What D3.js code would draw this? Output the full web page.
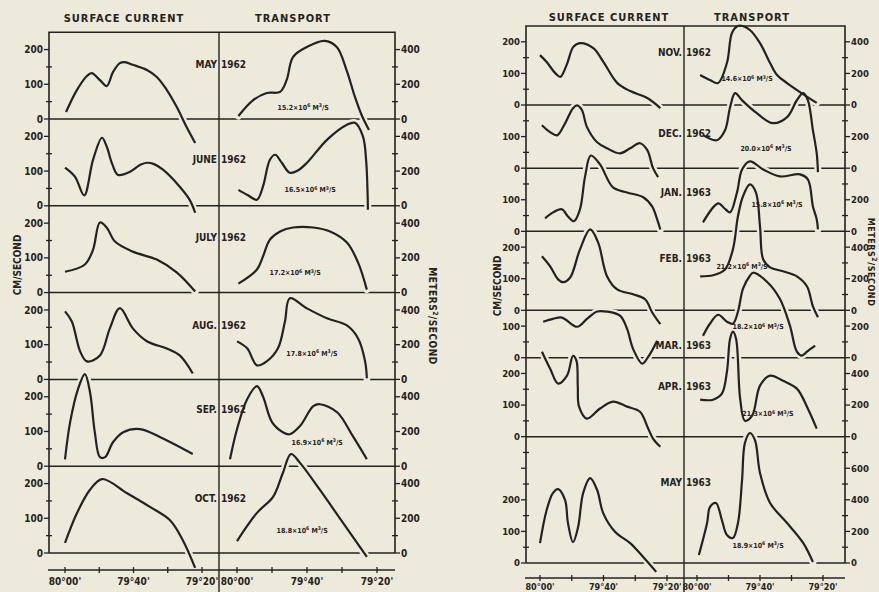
<!DOCTYPE html>
<meta charset="utf-8">
<style>
  body { margin: 0; background: #eeeadb; }
  svg { display: block; }
  text { font-family: "DejaVu Sans Condensed", "DejaVu Sans", sans-serif; font-weight: bold; fill: #242220; }
</style>
<body></body>
<script src="https://cdn.jsdelivr.net/npm/d3@7"></script>
<script>
  const width = 879
  const height = 592
  const ink = "#242220"
  const paper = "#eeeadb"

  // x values: minutes of longitude east of 80°00'W
  const xTickValues = [0, 10, 20, 30, 40]
  const xTickLabels = {0: "80°00'", 20: "79°40'", 40: "79°20'"}

  // ---- left figure, May - Oct 1962 ----
  const monthsA = ["MAY 1962", "JUNE 1962", "JULY 1962", "AUG. 1962", "SEP. 1962", "OCT. 1962"]
  // baseline of each panel, in cm/sec of the stacked scale
  const basesA = [1250, 1000, 750, 500, 250, 0]
  const monthLevelA = [158, 135, 158, 156, 164, 158]
  const currentTicksA = [[0, 100, 200], [0, 100, 200], [0, 100, 200], [0, 100, 200], [0, 100, 200], [0, 100, 200]]
  const transportTicksA = [[0, 200, 400], [0, 200, 400], [0, 200, 400], [0, 200, 400], [0, 200, 400], [0, 200, 400]]
  const totalsA = ["15.2", "16.5", "17.2", "17.8", "16.9", "18.8"]
  const totalAtA = [[18.9, 69], [20.9, 92], [16.6, 115], [21.4, 150], [22.9, 138], [18.6, 132]]

  const currentA = [
    [[0.3, 20], [3.5, 84], [6.4, 124], [7.8, 132], [10.2, 112], [12.2, 95], [14, 135], [16, 161], [17.5, 164], [19.8, 156], [23.9, 141], [26.8, 121], [29.7, 84], [32.6, 35], [35.5, -23], [38, -69]],
    [[0, 110], [2.9, 84], [5.6, 30], [8.2, 133], [10.8, 196], [12.2, 170], [13.8, 120], [15.5, 89], [19, 98], [22, 118], [23.9, 124], [26, 120], [28.6, 104], [33.5, 55], [36.4, 17], [38, -20]],
    [[0, 60], [5.8, 81], [8.2, 124], [10.2, 202], [12.2, 187], [14.6, 147], [19.8, 118], [26.8, 95], [32.6, 58], [38, 3]],
    [[0, 196], [2, 167], [4.4, 81], [6.4, 52], [10.2, 69], [13.1, 147], [16, 205], [19.8, 147], [23.9, 110], [29.7, 89], [33.5, 69], [37.3, 17]],
    [[0, 20], [1.5, 127], [3.8, 222], [5.8, 265], [7.3, 213], [8.7, 98], [10.2, 26], [11.7, 26], [14, 69], [17, 98], [21.9, 107], [27.7, 84], [37.3, 35]],
    [[0, 29], [3.5, 115], [7.3, 182], [10.8, 213], [18, 173], [24.8, 133], [30.6, 95], [34.4, 37], [38, -43]]
  ]
  const transportA = [
    [[0.4, 17], [4.7, 110], [8.5, 150], [12.3, 156], [14.2, 225], [16, 357], [20, 415], [25, 450], [28.5, 415], [31.3, 282], [33.7, 127], [35.6, 23], [37.7, -63]],
    [[0.4, 92], [3, 62], [5.7, 35], [7.4, 110], [9.4, 265], [10.9, 294], [12.8, 248], [15.1, 190], [17.5, 205], [20, 248], [25.7, 380], [31.4, 467], [33.7, 478], [36, 398], [36.9, 260], [37.3, 80], [37.4, -23]],
    [[0.4, 52], [5.7, 133], [7.4, 207], [9.4, 305], [12.3, 352], [16, 375], [21.8, 375], [26.6, 352], [31.4, 288], [34.6, 173], [37.1, 17]],
    [[0, 219], [2.9, 179], [5.7, 81], [8.5, 104], [11.7, 179], [13.7, 334], [15.1, 467], [20, 409], [25.7, 352], [31.4, 311], [34.6, 236], [36.6, 104], [37.1, 6]],
    [[-2, 40], [0, 213], [2.9, 386], [5.7, 461], [7.4, 403], [10, 254], [13.1, 196], [15.1, 184], [18, 231], [21.8, 346], [23.7, 357], [28.6, 311], [33.1, 173], [37.1, 40]],
    [[0, 69], [5.7, 231], [10.3, 323], [13.1, 461], [15.4, 570], [18, 519], [23.7, 363], [30.3, 173], [34.3, 58], [37.1, -23]]
  ]

  // ---- right figure, Nov 1962 - May 1963 ----
  const monthsB = ["NOV. 1962", "DEC. 1962", "JAN. 1963", "FEB. 1963", "MAR. 1963", "APR. 1963", "MAY 1963"]
  const basesB = [1450, 1250, 1050, 800, 650, 400, 0]
  const monthLevelB = [168, 111, 123, 165, 38, 158, 256]
  const currentTicksB = [[0, 100, 200], [0, 100], [0, 100], [0, 100, 200], [0, 100], [0, 100, 200], [0, 100, 200]]
  const transportTicksB = [[0, 200, 400], [0, 200], [0, 200], [0, 200, 400], [0, 200], [0, 200, 400], [0, 200, 400, 600]]
  const totalsB = ["14.6", "20.0", "15.8", "21.2", "18.2", "21.3", "18.9"]
  const totalAtB = [[15.9, 165], [21.9, 127], [25.4, 171], [14.3, 278], [19.4, 196], [22.5, 146], [19.4, 114]]

  const currentB = [
    [[0, 158], [2.1, 136], [4.8, 101], [6.4, 89], [8.4, 127], [10.5, 184], [12.6, 196], [16.8, 180], [20, 136], [24.3, 70], [28.4, 44], [33.8, 22], [37.9, -10]],
    [[0.6, 136], [3.2, 114], [5.4, 104], [7.9, 142], [10.4, 190], [11.7, 199], [13.2, 184], [14.8, 130], [18, 82], [21.1, 63], [25.2, 47], [28.4, 63], [31.5, 79], [33.8, 57], [35.6, 0], [37.2, -28]],
    [[1.6, 41], [4.1, 60], [6.9, 70], [8.8, 47], [10.7, 32], [12.6, 70], [14.2, 174], [16, 240], [18.9, 212], [23, 139], [27.4, 123], [32.5, 108], [35.3, 79], [36.9, 38], [37.9, 6]],
    [[0.6, 171], [3.2, 139], [5.7, 98], [7.3, 89], [9.5, 104], [12.6, 193], [15.8, 256], [18.3, 215], [21.1, 108], [24.3, 66], [29.3, 51], [33.1, 35], [35.3, -6], [37.9, -44]],
    [[1, 114], [4.1, 123], [6.9, 127], [11.7, 98], [14.8, 123], [18, 146], [21.1, 146], [25.2, 133], [27.4, 92], [29.3, 28], [32.2, -19], [34.1, 3], [36.9, 54]],
    [[0.6, 269], [3.2, 215], [5.7, 168], [8.5, 193], [10.4, 256], [11.5, 240], [11.9, 160], [12.3, 95], [14.8, 57], [18.9, 89], [23, 111], [27.4, 95], [31.5, 79], [34.1, 25], [35.6, -6], [37.9, -32]],
    [[0, 63], [2.1, 168], [4.1, 222], [5.7, 234], [7.9, 199], [8.8, 127], [10.4, 66], [12, 114], [13.6, 222], [15.8, 269], [18, 231], [19.9, 158], [23.7, 98], [28.4, 63], [32.5, 19], [36.6, -28]]
  ]
  const transportB = [
    [[1, 190], [4.1, 158], [6.7, 139], [9.5, 266], [11.1, 456], [12.9, 500], [14.5, 500], [16.8, 475], [20, 392], [23.2, 266], [25.4, 190], [28.6, 139], [32.7, 82], [38, 13]],
    [[1.9, 209], [6.3, 177], [8.9, 240], [10.5, 386], [12.1, 475], [14.3, 430], [19, 348], [24.1, 285], [28.6, 323], [31.7, 430], [33.7, 475], [35.2, 430], [36.8, 240], [38, 95], [38.4, -25]],
    [[1.9, 57], [6.7, 177], [9, 140], [10.5, 120], [12.7, 247], [14.3, 392], [16.8, 443], [21, 392], [26.3, 348], [32.7, 361], [35.2, 329], [36.8, 158], [38, 76], [38.4, 13]],
    [[1, 215], [5.1, 222], [8.9, 259], [11.4, 386], [13, 595], [14.6, 722], [16.8, 797], [18.7, 747], [20, 532], [21, 323], [23.2, 272], [27.3, 247], [31.7, 215], [34.9, 152], [36.8, 25], [38.4, -44]],
    [[1.9, 139], [4.1, 215], [6.7, 272], [9.5, 228], [11.4, 215], [13, 291], [14.6, 437], [16.8, 519], [17.8, 538], [22.2, 481], [26.3, 373], [29.5, 203], [31.7, 38], [33.3, 13], [34.9, 38], [37.5, 76]],
    [[1, 234], [5.1, 234], [7.9, 272], [9.5, 411], [10.5, 620], [11.4, 665], [12.4, 620], [13.7, 240], [15.2, 101], [17.5, 133], [20, 323], [23.2, 386], [27.3, 354], [31.7, 304], [35.2, 177], [38, 51]],
    [[0.6, 51], [3.2, 253], [4.1, 354], [6, 380], [7.9, 272], [9.5, 177], [11.4, 158], [13, 253], [14.3, 525], [15.2, 759], [16.8, 823], [18.4, 778], [20, 570], [23.2, 380], [28.6, 253], [33.7, 127], [36.8, 6]]
  ]

  const svg = d3.select("body").append("svg")
    .attr("width", width)
    .attr("height", height)

  svg.append("rect").attr("width", width).attr("height", height).attr("fill", paper)

  function drawFigure(f) {
    const g = svg.append("g")
    const xCur = d3.scaleLinear().domain([0, 40]).range(f.xCur)
    const xTr = d3.scaleLinear().domain([0, 40]).range(f.xTr)
    const y = d3.scaleLinear().domain([0, f.refBase]).range([f.yZero, f.yRef])
    const yTop = y(f.top)
    const tops = f.bases.map((b, i) => i === 0 ? f.top : f.bases[i - 1])

    const lineCur = (base) => d3.line().curve(d3.curveCatmullRom.alpha(0.5))
      .x(d => xCur(d[0])).y(d => y(base + d[1]))
    const lineTr = (base) => d3.line().curve(d3.curveCatmullRom.alpha(0.5))
      .x(d => xTr(d[0])).y(d => y(base + d[1] / 2))

    // zero lines (get broken by the curve halos)
    g.selectAll("line.zero").data(f.bases).join("line")
      .attr("x1", f.axisL).attr("x2", f.axisR)
      .attr("y1", d => y(d)).attr("y2", d => y(d))
      .attr("stroke", ink).attr("stroke-width", 1.5)

    const curves = []
    f.bases.forEach((b, i) => {
      curves.push(lineCur(b)(f.current[i]))
      curves.push(lineTr(b)(f.transport[i]))
    })
    // halos only cut the zero lines, so draw them all before any curve
    g.selectAll("path.halo").data(curves).join("path")
      .attr("d", d => d).attr("fill", "none")
      .attr("stroke", paper).attr("stroke-width", 7).attr("stroke-linecap", "round")
    g.selectAll("path.curve").data(curves).join("path")
      .attr("d", d => d).attr("fill", "none")
      .attr("stroke", ink).attr("stroke-width", 2.2).attr("stroke-linejoin", "round")

    // frame
    g.append("path")
      .attr("d", `M${f.axisL},${y(0)}V${yTop}H${f.axisR}V${y(0)}`)
      .attr("fill", "none").attr("stroke", ink).attr("stroke-width", 1.6)
    g.append("line")
      .attr("x1", f.mid).attr("x2", f.mid).attr("y1", yTop).attr("y2", height)
      .attr("stroke", ink).attr("stroke-width", 1.4)

    // y ticks
    f.bases.forEach((b, i) => {
      const span = tops[i] - b
      const minor = d3.range(0, span - 1, 50)
      minor.forEach(v => {
        const major = v % 100 === 0
        const yy = y(b + v)
        g.append("line").attr("x1", f.axisL - (major ? 5 : 3)).attr("x2", f.axisL + (major ? 0 : 3))
          .attr("y1", yy).attr("y2", yy).attr("stroke", ink).attr("stroke-width", 1.3)
        g.append("line").attr("x1", f.axisR - (major ? 0 : 3)).attr("x2", f.axisR + (major ? 5 : 3))
          .attr("y1", yy).attr("y2", yy).attr("stroke", ink).attr("stroke-width", 1.3)
      })
      g.selectAll(null).data(f.currentTicks[i]).join("text")
        .attr("x", f.axisL - 6).attr("y", v => y(b + v)).attr("dy", "0.36em")
        .attr("text-anchor", "end").attr("font-size", f.tickSize).text(v => v)
      g.selectAll(null).data(f.transportTicks[i]).join("text")
        .attr("x", f.axisR + 6).attr("y", v => y(b + v / 2)).attr("dy", "0.36em")
        .attr("text-anchor", "start").attr("font-size", f.tickSize).text(v => v)

      // month label split by the divider
      const [mon, yr] = f.months[i].split(" ")
      const ly = y(b + f.monthLevel[i])
      g.append("text").attr("x", f.mid - 2).attr("y", ly).attr("dy", "0.36em")
        .attr("text-anchor", "end").attr("font-size", 10).text(mon)
      g.append("text").attr("x", f.mid + 2).attr("y", ly).attr("dy", "0.36em")
        .attr("text-anchor", "start").attr("font-size", 10).text(yr)

      // transport total
      const [tx, tv] = f.totalAt[i]
      const t = g.append("text").attr("x", xTr(tx)).attr("y", y(b + tv / 2)).attr("dy", "0.36em")
        .attr("text-anchor", "middle").attr("font-size", 7)
      t.append("tspan").text(f.totals[i] + "×10")
      t.append("tspan").attr("dy", -2.5).attr("font-size", 5).text("6")
      t.append("tspan").attr("dy", 2.5).text(" M")
      t.append("tspan").attr("dy", -2.5).attr("font-size", 5).text("3")
      t.append("tspan").attr("dy", 2.5).text("/S")
    })

    // x axis
    g.append("line").attr("x1", f.axisL - 1).attr("x2", f.axisR)
      .attr("y1", f.xAxisY).attr("y2", f.xAxisY).attr("stroke", ink).attr("stroke-width", 1.5)
    ;[xCur, xTr].forEach(x => {
      g.selectAll(null).data(xTickValues).join("line")
        .attr("x1", d => x(d)).attr("x2", d => x(d))
        .attr("y1", f.xAxisY - 3).attr("y2", f.xAxisY + 3)
        .attr("stroke", ink).attr("stroke-width", 1.3)
      g.selectAll(null).data(xTickValues.filter(d => xTickLabels[d])).join("text")
        .attr("x", d => x(d)).attr("y", f.xLabelY)
        .attr("text-anchor", "middle").attr("font-size", f.xLabelSize).text(d => xTickLabels[d])
    })

    // titles
    g.append("text").attr("x", f.curTitleX).attr("y", f.titleY).attr("text-anchor", "middle")
      .attr("font-size", 11).attr("letter-spacing", 1).text("SURFACE  CURRENT")
    g.append("text").attr("x", f.trTitleX).attr("y", f.titleY).attr("text-anchor", "middle")
      .attr("font-size", 11).attr("letter-spacing", 1).text("TRANSPORT")
    g.append("text").attr("transform", `translate(${f.cmX},${f.cmY}) rotate(-90)`)
      .attr("text-anchor", "middle").attr("dy", "0.36em").attr("font-size", 10).text("CM/SECOND")
    const m = g.append("text").attr("transform", `translate(${f.mX},${f.mY}) rotate(90)`)
      .attr("text-anchor", "middle").attr("dy", "0.36em").attr("font-size", f.mSize).attr("letter-spacing", 0.5)
    m.append("tspan").text("METERS")
    m.append("tspan").attr("dy", -4).attr("font-size", 7).text("2")
    m.append("tspan").attr("dy", 4).text("/SECOND")
  }

  drawFigure({
    months: monthsA, bases: basesA, monthLevel: monthLevelA,
    currentTicks: currentTicksA, transportTicks: transportTicksA,
    totals: totalsA, totalAt: totalAtA, current: currentA, transport: transportA,
    axisL: 49, mid: 219, axisR: 395, xCur: [65, 202], xTr: [237, 377],
    refBase: 1250, yZero: 553, yRef: 119, top: 1500,
    xAxisY: 570, xLabelY: 585, xLabelSize: 10, tickSize: 10,
    titleY: 22, curTitleX: 124, trTitleX: 293,
    cmX: 17, cmY: 265, mX: 433, mY: 316, mSize: 10
  })

  drawFigure({
    months: monthsB, bases: basesB, monthLevel: monthLevelB,
    currentTicks: currentTicksB, transportTicks: transportTicksB,
    totals: totalsB, totalAt: totalAtB, current: currentB, transport: transportB,
    axisL: 526, mid: 684, axisR: 845, xCur: [540, 667], xTr: [697, 823],
    refBase: 1450, yZero: 563, yRef: 105, top: 1700,
    xAxisY: 578, xLabelY: 590, xLabelSize: 9, tickSize: 9.5,
    titleY: 21, curTitleX: 609, trTitleX: 752,
    cmX: 497, cmY: 286, mX: 871, mY: 262, mSize: 9
  })
</script>
